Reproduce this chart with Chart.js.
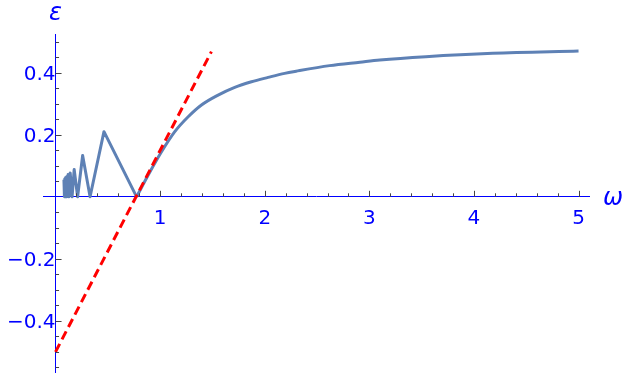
<!DOCTYPE html>
<html>
<head>
<meta charset="utf-8">
<script src="https://cdn.jsdelivr.net/npm/chart.js@4"></script>
<style>
  html, body { margin: 0; padding: 0; background: #fff; }
</style>
</head>
<body>
<canvas id="epsChart" width="623" height="374"></canvas>
<script>
// oscillating part at small omega (sharp corners)
const oscOmega = [0.080, 0.085, 0.088, 0.092, 0.096, 0.100, 0.105, 0.110, 0.120, 0.127,
  0.140, 0.158, 0.178, 0.211, 0.259, 0.330, 0.463, 0.775];
const oscEps = [0.055, 0.0, 0.058, 0.0, 0.062, 0.0, 0.065, 0.0, 0.072, 0.0,
  0.077, 0.0, 0.088, 0.0, 0.133, 0.0, 0.210, 0.0];

// smooth rise after the last zero
const riseOmega = [0.775, 0.886, 1.013, 1.140, 1.268, 1.395, 1.554, 1.713, 1.873, 2.032,
  2.19, 2.30, 2.62, 2.91, 3.10, 3.54, 4.18, 5.00];
const riseEps = [0.0, 0.070, 0.145, 0.210, 0.258, 0.296, 0.328, 0.353, 0.371, 0.385,
  0.398, 0.405, 0.423, 0.434, 0.441, 0.452, 0.463, 0.470];

// red dashed tangent line, end points
const lineOmega = [0, 1.49];
const lineEps = [-0.5, 0.468];

// ticks
const xMajor = [1, 2, 3, 4, 5];
const xMinor = [0.2, 0.4, 0.6, 0.8, 1.2, 1.4, 1.6, 1.8, 2.2, 2.4, 2.6, 2.8,
  3.2, 3.4, 3.6, 3.8, 4.2, 4.4, 4.6, 4.8, 5.0];
const yMajor = [-0.4, -0.2, 0.2, 0.4];
const yMinor = [-0.55, -0.5, -0.45, -0.35, -0.3, -0.25, -0.15, -0.1, -0.05,
  0.05, 0.1, 0.15, 0.25, 0.3, 0.35, 0.45, 0.5];

const toPts = (xs, ys) => xs.map((w, i) => ({ x: w, y: ys[i] }));

const tickFont = { family: '"DejaVu Sans"', size: 20 };
const blue = '#0000ff';
const curveColor = '#5e81b5';

// tick marks drawn inward, plus axis titles
const axisDecor = {
  id: 'axisDecor',
  afterDraw(chart) {
    const c = chart.ctx, xs = chart.scales.x, ys = chart.scales.y;
    const x0 = xs.getPixelForValue(0), y0 = ys.getPixelForValue(0);
    c.save();
    c.strokeStyle = '#444';
    c.lineWidth = 1;
    c.beginPath();
    xMinor.forEach(v => { const p = Math.round(xs.getPixelForValue(v)) + 0.5; c.moveTo(p, y0); c.lineTo(p, y0 - 3.5); });
    xMajor.forEach(v => { const p = Math.round(xs.getPixelForValue(v)) + 0.5; c.moveTo(p, y0); c.lineTo(p, y0 - 6); });
    yMinor.forEach(v => { const p = Math.round(ys.getPixelForValue(v)) + 0.5; c.moveTo(x0, p); c.lineTo(x0 + 3.5, p); });
    yMajor.forEach(v => { const p = Math.round(ys.getPixelForValue(v)) + 0.5; c.moveTo(x0, p); c.lineTo(x0 + 6, p); });
    c.stroke();

    c.fillStyle = blue;
    c.font = 'italic 24px "DejaVu Sans"';
    c.textBaseline = 'alphabetic';
    c.textAlign = 'center';
    c.fillText('ε', x0, chart.chartArea.top - 14);
    c.textAlign = 'left';
    c.fillText('ω', chart.chartArea.right + 14, y0 + 8);
    c.restore();
  }
};

new Chart(document.getElementById('epsChart'), {
  type: 'scatter',
  data: {
    datasets: [
      {
        data: toPts(lineOmega, lineEps),
        showLine: true,
        borderColor: '#ff0000',
        borderWidth: 3,
        borderDash: [9, 5],
        pointRadius: 0,
        order: 0
      },
      {
        data: toPts(oscOmega, oscEps),
        showLine: true,
        borderColor: curveColor,
        borderWidth: 3,
        pointRadius: 0,
        borderJoinStyle: 'round',
        order: 1
      },
      {
        data: toPts(riseOmega, riseEps),
        showLine: true,
        borderColor: curveColor,
        borderWidth: 3,
        pointRadius: 0,
        cubicInterpolationMode: 'monotone',
        order: 1
      }
    ]
  },
  options: {
    responsive: false,
    animation: false,
    layout: { padding: { left: 43, right: 34, top: 34, bottom: 2 } },
    plugins: { legend: { display: false }, tooltip: { enabled: false } },
    scales: {
      x: {
        type: 'linear',
        min: -0.12,
        max: 5.1,
        position: { y: 0 },
        grid: { display: false },
        border: { display: true, color: blue, width: 1 },
        afterBuildTicks: s => { s.ticks = xMajor.map(v => ({ value: v })); },
        afterFit: s => { s.paddingLeft = 0; s.paddingRight = 0; s.height = 0; },
        ticks: { color: blue, font: tickFont, padding: 2, maxRotation: 0,
          callback: v => String(v) }
      },
      y: {
        type: 'linear',
        min: -0.565,
        max: 0.525,
        position: { x: 0 },
        grid: { display: false },
        border: { display: true, color: blue, width: 1 },
        afterBuildTicks: s => { s.ticks = yMajor.map(v => ({ value: v })); },
        afterFit: s => { s.paddingTop = 0; s.paddingBottom = 0; s.width = 0; },
        ticks: { color: blue, font: tickFont, padding: 6, labelOffset: 2,
          callback: v => (v < 0 ? '\u2212' : '') + Math.abs(v).toFixed(1) }
      }
    }
  },
  plugins: [axisDecor]
});
</script>
</body>
</html>
